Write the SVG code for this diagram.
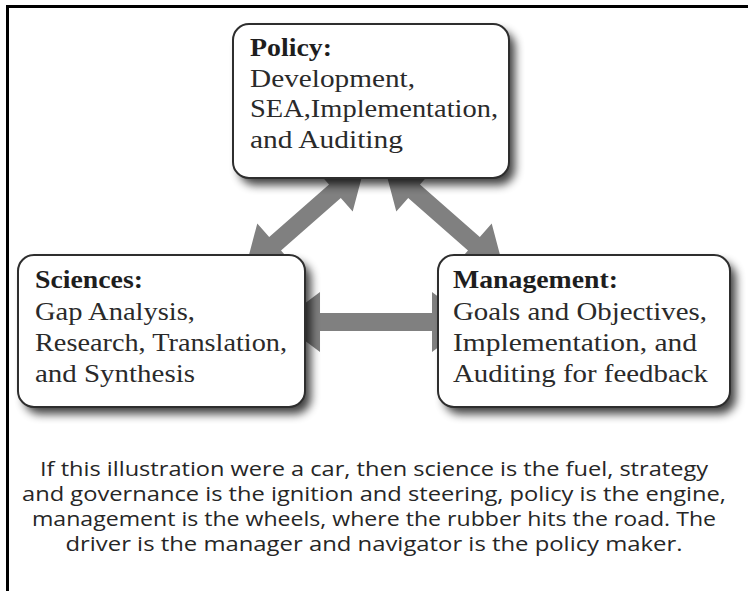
<svg xmlns="http://www.w3.org/2000/svg" width="748" height="591" viewBox="0 0 748 591">
  <style>
    .box { fill: #ffffff; stroke: #2e2e2e; stroke-width: 2; }
    .shadow { fill: #000000; opacity: 0.75; filter: url(#soft); }
    .arrow { fill: #808080; }
    .head { font-family: "Liberation Serif", "Times New Roman", serif; font-size: 26px; font-weight: bold; fill: #1e1e1e; }
    .body { font-family: "Liberation Serif", "Times New Roman", serif; font-size: 26px; fill: #2a2a2a; }
    .note { font-family: "Open Sans", "Noto Sans", sans-serif; font-size: 20px; fill: #262626; text-anchor: middle; }
  </style>
  <defs>
    <filter id="soft" x="-20%" y="-20%" width="140%" height="150%">
      <feGaussianBlur stdDeviation="5"/>
    </filter>
  </defs>

  <rect width="748" height="591" fill="#ffffff"/>
  <!-- frame: only top and left edges fall inside the canvas -->
  <path d="M7.5 591 V6.5 H748" fill="none" stroke="#000000" stroke-width="3"/>

  <g id="connectors">
    <!-- Sciences <-> Policy -->
    <polygon class="arrow" points="245,270 292.9,264 281,250.5 340.8,198.1 352.7,211.6 365,165 317.1,171 329,184.5 269.2,236.9 257.3,223.4"/>
    <!-- Policy <-> Management -->
    <polygon class="arrow" points="504,270 456.1,264 468,250.5 408.2,198.1 396.3,211.6 384,165 431.9,171 420,184.5 479.8,236.9 491.7,223.4"/>
    <!-- Sciences <-> Management -->
    <polygon class="arrow" points="280,322 320,292 320,313 432,313 432,292 472,322 432,352 432,331 320,331 320,352"/>
  </g>

  <g id="policy">
    <rect class="shadow" x="239" y="31" width="276" height="154" rx="16"/>
    <rect class="box" x="233" y="24" width="276" height="154" rx="16"/>
    <text class="head" x="250" y="56" textLength="82" lengthAdjust="spacingAndGlyphs">Policy:</text>
    <text class="body" x="250" y="87" textLength="165" lengthAdjust="spacingAndGlyphs">Development,</text>
    <text class="body" x="250" y="117" textLength="248" lengthAdjust="spacingAndGlyphs">SEA,Implementation,</text>
    <text class="body" x="250" y="148" textLength="153" lengthAdjust="spacingAndGlyphs">and Auditing</text>
  </g>

  <g id="sciences">
    <rect class="shadow" x="24" y="262" width="287" height="152" rx="16"/>
    <rect class="box" x="18" y="255" width="287" height="152" rx="16"/>
    <text class="head" x="35" y="288" textLength="108" lengthAdjust="spacingAndGlyphs">Sciences:</text>
    <text class="body" x="35" y="320" textLength="160" lengthAdjust="spacingAndGlyphs">Gap Analysis,</text>
    <text class="body" x="35" y="351" textLength="252" lengthAdjust="spacingAndGlyphs">Research, Translation,</text>
    <text class="body" x="35" y="382" textLength="160" lengthAdjust="spacingAndGlyphs">and Synthesis</text>
  </g>

  <g id="management">
    <rect class="shadow" x="444" y="262" width="292" height="152" rx="16"/>
    <rect class="box" x="438" y="255" width="292" height="152" rx="16"/>
    <text class="head" x="453" y="288" textLength="165" lengthAdjust="spacingAndGlyphs">Management:</text>
    <text class="body" x="453" y="320" textLength="254" lengthAdjust="spacingAndGlyphs">Goals and Objectives,</text>
    <text class="body" x="453" y="351" textLength="244" lengthAdjust="spacingAndGlyphs">Implementation, and</text>
    <text class="body" x="453" y="382" textLength="255" lengthAdjust="spacingAndGlyphs">Auditing for feedback</text>
  </g>

  <g id="caption">
    <text class="note" x="374" y="476" textLength="668" lengthAdjust="spacingAndGlyphs">If this illustration were a car, then science is the fuel, strategy</text>
    <text class="note" x="374" y="501" textLength="704" lengthAdjust="spacingAndGlyphs">and governance is the ignition and steering, policy is the engine,</text>
    <text class="note" x="374" y="526" textLength="684" lengthAdjust="spacingAndGlyphs">management is the wheels, where the rubber hits the road. The</text>
    <text class="note" x="374" y="551" textLength="617" lengthAdjust="spacingAndGlyphs">driver is the manager and navigator is the policy maker.</text>
  </g>
</svg>
